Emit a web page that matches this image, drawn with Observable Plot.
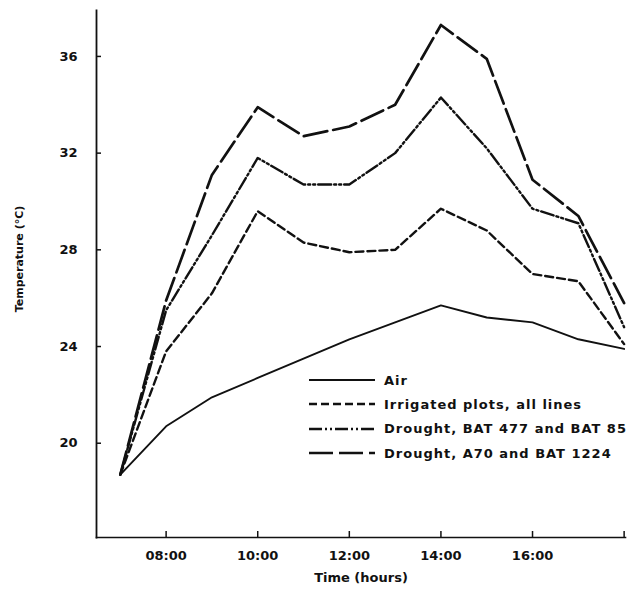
<!DOCTYPE html>
<html>
<head>
<meta charset="utf-8">
<script src="https://cdn.jsdelivr.net/npm/d3@7"></script>
<script src="https://cdn.jsdelivr.net/npm/@observablehq/plot@0.6"></script>
<style>
  body { margin: 0; background: #fff; }
  #wrap { position: relative; width: 628px; height: 613px; }
  #legend { position: absolute; left: 308px; top: 368px; font-family: "DejaVu Sans", sans-serif; font-weight: bold; font-size: 13px; letter-spacing: 1px; color: #111; }
  .row { display: flex; align-items: center; height: 24.3px; white-space: nowrap; }
  .row svg { margin-right: 8px; }
</style>
</head>
<body>
<div id="wrap"><div id="legend"></div></div>
<script>
// Data
const hours = [7, 8, 9, 10, 11, 12, 13, 14, 15, 16, 17, 18];
const air       = [18.7, 20.7, 21.9, 22.7, 23.5, 24.3, 25.0, 25.7, 25.2, 25.0, 24.3, 23.9];
const irrigated = [18.7, 23.8, 26.2, 29.6, 28.3, 27.9, 28.0, 29.7, 28.8, 27.0, 26.7, 24.1];
const bat477    = [18.7, 25.5, 28.6, 31.8, 30.7, 30.7, 32.0, 34.3, 32.2, 29.7, 29.1, 24.8];
const a70       = [18.7, 25.9, 31.1, 33.9, 32.7, 33.1, 34.0, 37.3, 35.9, 30.9, 29.4, 25.8];

const seriesNames = ["Air", "Irrigated plots, all lines", "Drought, BAT 477 and BAT 85", "Drought, A70 and BAT 1224"];
const seriesValues = [air, irrigated, bat477, a70];
const dashes = [null, "8,4", "13,3,2,3,2,3", "24,6"];
const widths = [1.9, 2.4, 2.4, 2.7];

const xTicks = [8, 10, 12, 14, 16, 18];
const xTickLabels = ["08:00", "10:00", "12:00", "14:00", "16:00", ""];
const yTicks = [20, 24, 28, 32, 36];
const xTitle = "Time (hours)";
const yTitle = "Temperature (°C)";

const rows = seriesNames.map((name, i) => hours.map((h, j) => ({series: name, hour: h, temp: seriesValues[i][j]})));

const font = "DejaVu Sans, sans-serif";

const chart = Plot.plot({
  width: 628,
  height: 613,
  marginLeft: 96,
  marginRight: 3,
  marginTop: 10,
  marginBottom: 76,
  style: {fontFamily: font, fontSize: "13px", fontWeight: "bold", color: "#111", background: "white"},
  x: {domain: [6.48, 18.03]},
  y: {domain: [16.1, 37.9]},
  marks: [
    Plot.frame({anchor: "left", stroke: "#111", strokeWidth: 1.8}),
    Plot.frame({anchor: "bottom", stroke: "#111", strokeWidth: 1.6}),
    Plot.axisY({ticks: yTicks, tickSize: -5, tickPadding: 24, strokeWidth: 1.5, label: null, fontSize: 13}),
    Plot.axisX({ticks: xTicks, tickFormat: (d) => xTickLabels[xTicks.indexOf(d)], tickSize: -6, tickPadding: 19, strokeWidth: 1.5, label: null, fontSize: 13}),
    Plot.text([yTitle], {text: (d) => d, frameAnchor: "left", textAnchor: "middle", rotate: -90, dx: -77, dy: -15, fontSize: 11, fill: "#111"}),
    Plot.text([xTitle], {text: (d) => d, frameAnchor: "bottom", textAnchor: "middle", dy: 44, fontSize: 13, fill: "#111"}),
    ...rows.map((data, i) => Plot.line(data, {
      x: "hour", y: "temp", stroke: "#111", strokeWidth: widths[i],
      strokeDasharray: dashes[i], strokeLinejoin: "round"
    }))
  ]
});
document.getElementById("wrap").prepend(chart);

// Legend
const legend = document.getElementById("legend");
seriesNames.forEach((name, i) => {
  const row = document.createElement("div");
  row.className = "row";
  row.innerHTML = `<svg width="68" height="6"><line x1="1" y1="3" x2="67" y2="3" stroke="#111" stroke-width="${widths[i]}" ${dashes[i] ? `stroke-dasharray="${dashes[i]}"` : ""}/></svg><span>${name}</span>`;
  legend.appendChild(row);
});
</script>
</body>
</html>
